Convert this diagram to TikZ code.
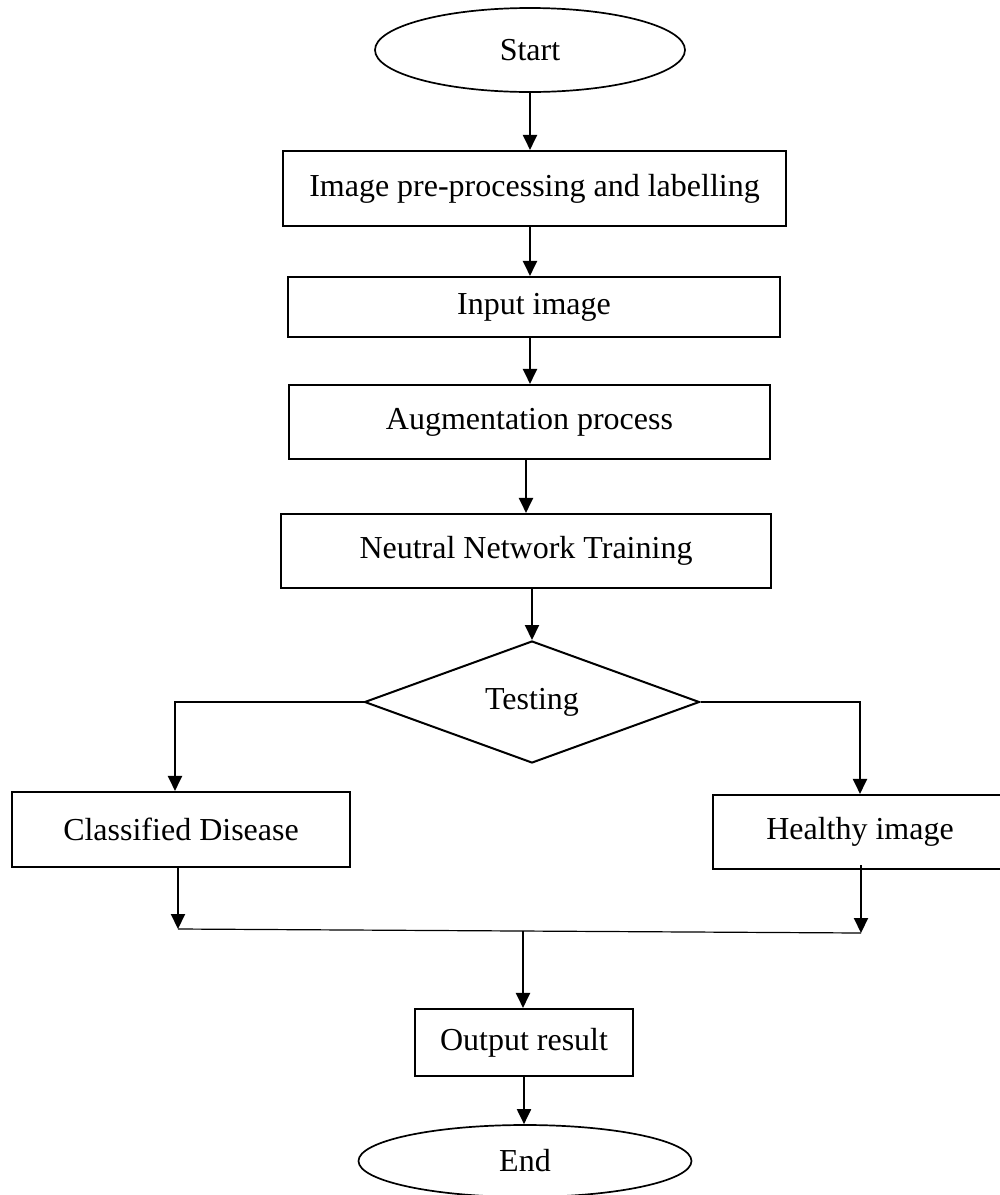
\documentclass[tikz,border=0pt]{standalone}
\usepackage{fontspec}
\setmainfont{Liberation Serif}
\usetikzlibrary{shapes.geometric,arrows.meta}

\begin{document}
\begin{tikzpicture}[x=1pt,y=-1pt,
  box/.style={draw,line width=2.1pt,inner sep=0pt},
  terminal/.style={draw,ellipse,line width=1.7pt,inner sep=0pt},
  decision/.style={draw,diamond,line width=2pt,inner sep=0pt},
  flow/.style={-{Triangle[length=15pt,width=14pt]},line width=2pt},
  joinline/.style={line width=1.2pt}]

  \useasboundingbox (0,0) rectangle (1000,1195);
  \fontsize{32}{37}\selectfont

  \node[terminal,minimum width=310pt,minimum height=84pt] (start) at (530,50) {Start};
  \node[box,minimum width=503pt,minimum height=75pt] (prep) at (534.5,188.5)
    {Image pre-processing and labelling};
  \node[box,minimum width=492pt,minimum height=60pt] (input) at (534,307) {Input image};
  \node[box,minimum width=481pt,minimum height=74pt] (augment) at (529.5,422)
    {Augmentation process};
  \node[box,minimum width=490pt,minimum height=74pt] (train) at (526,551)
    {Neutral Network Training};
  \node[decision,minimum width=335pt,minimum height=122pt] (test) at (532,702) {Testing};

  \node[box,minimum width=338pt,minimum height=75pt] (disease) at (181,829.5)
    {Classified Disease};
  \node[box,minimum width=294pt,minimum height=74pt] (healthy) at (860,832)
    {Healthy image};

  \node[box,minimum width=218pt,minimum height=67pt] (output) at (524,1042.5)
    {Output result};
  \node[terminal,minimum width=333pt,minimum height=72pt] (finish) at (525,1161) {End};

  % join points below the two results
  \coordinate (joinL) at (178,929);
  \coordinate (joinR) at (861,933);
  \coordinate (joinM) at (523,931);

  \draw[flow] (start.south) -- (start.south |- prep.north);
  \draw[flow] (prep.south -| start.south) -- (start.south |- input.north);
  \draw[flow] (input.south -| start.south) -- (start.south |- augment.north);
  \draw[flow] (augment.south -| train.north) -- (train.north);
  \draw[flow] (train.south -| test.north) -- (test.north);

  \draw[flow] (test.west) -| ([xshift=-6pt]disease.north);
  \draw[flow] (test.east) -| (healthy.north);

  \draw[flow] (disease.south -| joinL) -- (joinL);
  \draw[flow] ([yshift=5pt]healthy.south -| joinR) -- (joinR);
  \draw[joinline] (joinL) -- (joinR);

  \draw[flow] (joinM) -- (joinM |- output.north);
  \draw[flow] (output.south) -- (output.south |- finish.north);

\end{tikzpicture}
\end{document}
